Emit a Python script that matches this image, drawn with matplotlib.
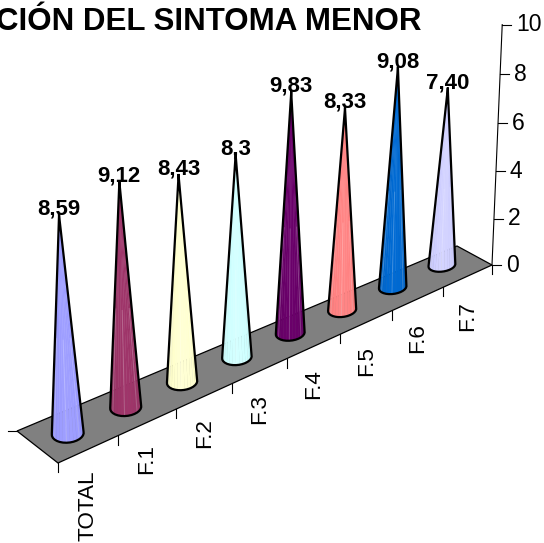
import numpy as np
import matplotlib
matplotlib.use("Agg")
import matplotlib.pyplot as plt
from matplotlib.collections import PolyCollection

plt.rcParams['font.family'] = ['Liberation Sans', 'DejaVu Sans']

categories = ['TOTAL', 'F.1', 'F.2', 'F.3', 'F.4', 'F.5', 'F.6', 'F.7']
values = [8.59, 9.12, 8.43, 8.3, 9.83, 8.33, 9.08, 7.40]
value_labels = ['8,59', '9,12', '8,43', '8,3', '9,83', '8,33', '9,08', '7,40']
colors = ['#9999FF', '#993366', '#FFFFCC', '#CCFFFF', '#660066', '#FF8080', '#0066CC', '#CCCCFF']
value_ticks = [0, 2, 4, 6, 8, 10]
title = 'CIÓN DEL SINTOMA MENOR'

# Floor corners on the page, used to build the perspective of the 3D box
front_left, front_right = np.array([58.0, 463.0]), np.array([492.0, 265.0])
back_left, back_right = np.array([17.0, 431.0]), np.array([457.0, 246.0])
vanish = np.array([270.0, 5487.0])
foreshorten = 0.01463


def project(u, d, v=0.0):
    # u runs along the categories, d across the floor, v up the value axis
    t = u * (1 + 8 * foreshorten) / (8 * (1 + foreshorten * u))
    front = front_left + t * (front_right - front_left)
    back = back_left + t * (back_right - back_left)
    base = front + d * (back - front)
    g = 0.00472 - 0.00004 * u + 0.00013 * np.exp(-3 * (u - 0.5))
    return vanish + (base - vanish) / (1 - g * v)


def shade(color, f):
    rgb = np.array(matplotlib.colors.to_rgb(color)) * f
    return tuple(np.clip(rgb, 0, 1))


def draw_cone(ax, i, value, color, radius=0.22, n=28):
    # the row of cones drifts slightly towards the back of the floor
    u = i + 0.5 - 0.01 * i
    d = 0.5 + 0.018 * i
    apex = project(u, d, value)
    t = np.linspace(0, 2 * np.pi, n, endpoint=False)
    ring = np.array([project(u + radius * np.cos(a), d + radius * np.sin(a)) for a in t])

    # the two tangent points from the apex split the base into front and back arcs
    ang = np.arctan2(ring[:, 0] - apex[0], ring[:, 1] - apex[1])
    i0, i1 = np.argmin(ang), np.argmax(ang)
    arc_a = [(i0 + k) % n for k in range((i1 - i0) % n + 1)]
    arc_b = [(i0 - k) % n for k in range((i0 - i1) % n + 1)]
    arc = arc_a if ring[arc_a, 1].mean() > ring[arc_b, 1].mean() else arc_b
    pts = ring[arc]

    facets, fills = [], []
    for k in range(len(pts) - 1):
        facets.append([apex, pts[k], pts[k + 1]])
        fills.append(shade(color, 0.9 + 0.14 * np.sin(np.pi * k / (len(pts) - 1))))
    ax.add_collection(PolyCollection(facets, facecolors=fills, edgecolors=fills, linewidths=0.3, zorder=3))

    # pale streaks running up from the base
    for k in range(3, len(pts) - 3, 4):
        top = pts[k] + (apex - pts[k]) * 0.45
        ax.plot([pts[k][0], top[0]], [pts[k][1], top[1]], color='white', alpha=0.18, lw=0.8, zorder=3)

    outline = np.vstack([apex, pts, apex])
    ax.plot(outline[:, 0], outline[:, 1], color='black', lw=1.6, solid_joinstyle='round', zorder=4)
    ax.text(apex[0], apex[1] - 6, value_labels[i], ha='center', va='center',
            fontsize=16, fontweight='bold', color='black', zorder=5)


fig = plt.figure(figsize=(5.44, 5.43), dpi=100)
ax = fig.add_axes([0, 0, 1, 1])
ax.set_xlim(0, 544)
ax.set_ylim(543, 0)
ax.axis('off')

# gray floor
floor = [front_left, front_right, back_right, back_left]
ax.add_patch(plt.Polygon(floor, closed=True, facecolor='#808080', edgecolor='black', lw=0.9, zorder=1))

# value axis on the right corner
bottom, top = project(8, 0, 0), project(8, 0, value_ticks[-1])
ax.plot([bottom[0], top[0]], [bottom[1], top[1]], color='black', lw=0.8, zorder=2)
for v in value_ticks:
    p = project(8, 0, v)
    ax.plot([p[0], p[0] + 9], [p[1], p[1]], color='black', lw=0.8, zorder=2)
    ax.text(p[0] + 14, p[1], str(v), ha='left', va='center', fontsize=16.5, color='black')

# category ticks under the front edge
for k in range(len(categories) + 1):
    p = project(k, 0)
    ax.plot([p[0], p[0]], [p[1], p[1] + 9], color='black', lw=0.8, zorder=2)
corner = project(0, 1)
ax.plot([corner[0] - 9, corner[0]], [corner[1], corner[1]], color='black', lw=0.8, zorder=2)

for i, name in enumerate(categories):
    p = project(i + 0.5, 0)
    ax.text(p[0], p[1] + 21 + 0.55 * i, name, rotation=90, ha='center', va='top', fontsize=16.2, color='black')

for i in range(len(categories) - 1, -1, -1):
    draw_cone(ax, i, values[i], colors[i])

ax.text(422, 30, title, ha='right', va='baseline', fontsize=22.5, fontweight='bold', color='black')

fig.savefig('out.png', dpi=100)
